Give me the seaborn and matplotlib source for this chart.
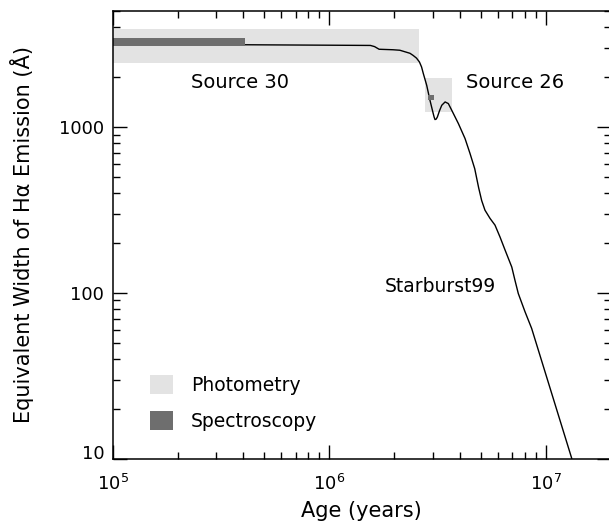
import matplotlib
matplotlib.use("Agg")
import matplotlib.pyplot as plt
import matplotlib.transforms as mtransforms
import seaborn as sns
import numpy as np
import pandas as pd
from matplotlib.patches import Patch, Rectangle
from matplotlib.ticker import FuncFormatter, NullFormatter, FixedLocator

# Starburst99 model track: H-alpha equivalent width vs. cluster age
model_age = [1.0e5, 4.0e5, 1.0e6, 1.55e6, 1.62e6, 1.70e6, 1.97e6, 2.12e6, 2.36e6,
             2.44e6, 2.53e6, 2.61e6, 2.67e6, 2.72e6, 2.82e6, 2.92e6, 3.01e6,
             3.05e6, 3.08e6, 3.12e6, 3.16e6, 3.23e6, 3.31e6, 3.43e6, 3.55e6,
             3.68e6, 3.95e6, 4.24e6, 4.47e6, 4.70e6, 4.90e6, 5.06e6, 5.24e6,
             5.53e6, 5.83e6, 6.15e6, 6.49e6, 6.97e6, 7.21e6, 7.47e6, 8.02e6,
             8.61e6, 1.32e7]
model_ew = [3140, 3130, 3110, 3100, 3050, 2940, 2920, 2900, 2780,
            2700, 2600, 2465, 2300, 2100, 1783, 1448, 1231,
            1150, 1108, 1115, 1149, 1250, 1351, 1415, 1383,
            1261, 1048, 851, 692, 560, 430, 360, 315,
            281, 256, 217, 181, 143, 119, 99, 77,
            61, 10]

# Observed constraints for each source: (age range, EW range)
sources = ["Source 30", "Source 26"]
phot_age_lo = [1.0e5, 2.77e6]
phot_age_hi = [2.60e6, 3.68e6]
phot_ew_lo = [2445, 1230]
phot_ew_hi = [3880, 1975]
spec_age_lo = [1.0e5, 2.87e6]
spec_age_hi = [4.1e5, 3.06e6]
spec_ew_lo = [3075, 1445]
spec_ew_hi = [3435, 1555]

# Label anchors
source_label_age = [2.30e5, 4.28e6]
source_label_ew = [1850, 1850]

ew_ticks = [10, 100, 1000]

light = "#e3e3e3"
dark = "#6e6e6e"

sns.set_theme(style="ticks")
plt.rcParams["font.family"] = ["DejaVu Sans"]
plt.rcParams["mathtext.fontset"] = "dejavusans"
plt.rcParams["text.color"] = "black"

W, H = 609, 523
fig = plt.figure(figsize=(W / 100, H / 100), dpi=100)
left, right, bottom, top = 112.7, 610.9, 458.7, 11.0
ax = fig.add_axes([left / W, (H - bottom) / H, (right - left) / W, (bottom - top) / H])

ax.set_xscale("log")
ax.set_yscale("log")
ax.set_xlim(1e5, 2e7)
ax.set_ylim(10, 5000)

# Photometric and spectroscopic boxes
for i in range(len(sources)):
    ax.add_patch(Rectangle((phot_age_lo[i], phot_ew_lo[i]),
                           phot_age_hi[i] - phot_age_lo[i],
                           phot_ew_hi[i] - phot_ew_lo[i],
                           facecolor=light, edgecolor="none", zorder=2.6))

df = pd.DataFrame({"age": model_age, "ew": model_ew})
sns.lineplot(data=df, x="age", y="ew", ax=ax, color="black", lw=1.0,
             sort=False, estimator=None, zorder=3)

for i in range(len(sources)):
    ax.add_patch(Rectangle((spec_age_lo[i], spec_ew_lo[i]),
                           spec_age_hi[i] - spec_age_lo[i],
                           spec_ew_hi[i] - spec_ew_lo[i],
                           facecolor=dark, edgecolor="none", zorder=3.5))

fs = 13.5
for name, xa, ye in zip(sources, source_label_age, source_label_ew):
    ax.text(xa, ye, name, ha="left", va="center", fontsize=14, color="black")
ax.text(5.89e6, 108.7, "Starburst99", ha="right", va="center", fontsize=fs,
        color="black")

for s in ax.spines.values():
    s.set_linewidth(1.1)
    s.set_color("black")
    s.set_zorder(5)

ax.tick_params(which="both", direction="in", top=True, right=True,
               labeltop=False, labelright=False, color="black", width=1.0,
               labelsize=13, labelcolor="black")
ax.tick_params(which="major", length=10.2)
ax.tick_params(which="minor", length=5.3)
ax.tick_params(axis="x", which="major", pad=11)
ax.tick_params(axis="y", which="major", pad=6)
ax.yaxis.set_major_locator(FixedLocator(ew_ticks))
ax.yaxis.set_major_formatter(FuncFormatter(lambda v, p: f"{v:g}"))
ax.yaxis.set_minor_formatter(NullFormatter())
ax.xaxis.set_minor_formatter(NullFormatter())

# Lift the lowest EW label a little off the corner
lift = mtransforms.ScaledTranslation(0, 5 / 72, fig.dpi_scale_trans)
lowest = ax.yaxis.get_major_ticks()[0].label1
lowest.set_transform(lowest.get_transform() + lift)

ax.set_xlabel("Age (years)", fontsize=15, labelpad=5, color="black")
ax.set_ylabel("Equivalent Width of H\u03b1 Emission (\u00c5)", fontsize=15,
              labelpad=18, color="black")

handles = [Patch(facecolor=light, edgecolor="none", label="Photometry"),
           Patch(facecolor=dark, edgecolor="none", label="Spectroscopy")]
ax.legend(handles=handles, loc="lower left", bbox_to_anchor=(0.0749, 0.062),
          frameon=False, fontsize=fs, borderpad=0, borderaxespad=0,
          handlelength=1.22, handleheight=1.18, handletextpad=0.95,
          labelspacing=0.85, labelcolor="black")

fig.savefig("out.png", dpi=100)
